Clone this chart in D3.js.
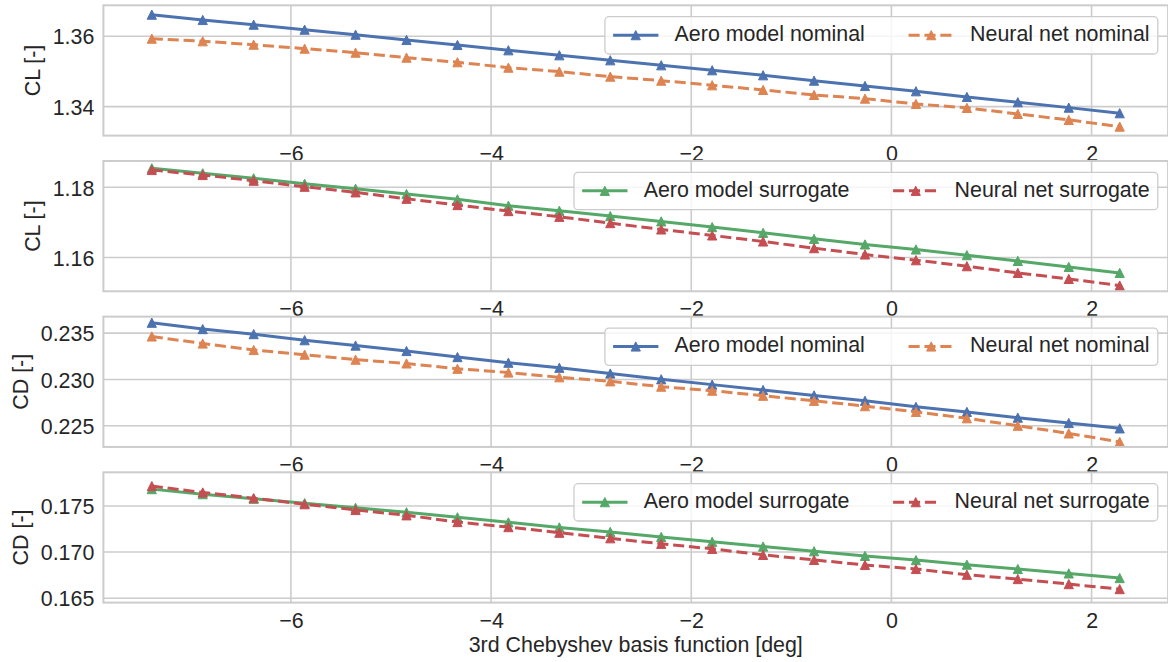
<!DOCTYPE html>
<html>
<head>
<meta charset="utf-8">
<script src="https://cdn.jsdelivr.net/npm/d3@7"></script>
<style>
  html, body { margin: 0; padding: 0; background: #ffffff; }
  svg { display: block; font-family: "Liberation Sans", Arial, sans-serif; }
</style>
</head>
<body>
<svg id="chart" width="1168" height="662"></svg>
<script>
// ---- data -------------------------------------------------------------
const xValues = [-7.390, -6.881, -6.372, -5.863, -5.354, -4.845, -4.336, -3.827, -3.318, -2.809,
                 -2.300, -1.791, -1.282, -0.773, -0.264, 0.245, 0.754, 1.263, 1.772, 2.281];

const clNominalAero = [1.36614, 1.36463, 1.36330, 1.36188, 1.36045, 1.35895, 1.35753, 1.35602, 1.35460, 1.35318,
                       1.35176, 1.35034, 1.34892, 1.34739, 1.34588, 1.34438, 1.34276, 1.34126, 1.33972, 1.33813];
const clNominalNet = [1.35932, 1.35858, 1.35761, 1.35648, 1.35534, 1.35392, 1.35262, 1.35108, 1.34995, 1.34853,
                      1.34739, 1.34608, 1.34475, 1.34333, 1.34228, 1.34077, 1.33964, 1.33793, 1.33623, 1.33433];
const clSurrogateAero = [1.18543, 1.18400, 1.18257, 1.18103, 1.17960, 1.17809, 1.17657, 1.17474, 1.17331, 1.17180,
                         1.17029, 1.16866, 1.16703, 1.16531, 1.16372, 1.16229, 1.16066, 1.15903, 1.15732, 1.15560];
const clSurrogateNet = [1.18494, 1.18351, 1.18189, 1.18017, 1.17857, 1.17674, 1.17494, 1.17323, 1.17160, 1.16980,
                        1.16800, 1.16629, 1.16457, 1.16266, 1.16086, 1.15923, 1.15752, 1.15560, 1.15389, 1.15200];
const cdNominalAero = [0.236123, 0.235436, 0.234891, 0.234237, 0.233659, 0.233070, 0.232415, 0.231805, 0.231260, 0.230638,
                       0.230016, 0.229438, 0.228860, 0.228272, 0.227694, 0.227039, 0.226494, 0.225872, 0.225294, 0.224717];
const cdNominalNet = [0.234640, 0.233877, 0.233179, 0.232677, 0.232132, 0.231729, 0.231151, 0.230747, 0.230234, 0.229798,
                      0.229220, 0.228784, 0.228239, 0.227694, 0.227116, 0.226494, 0.225807, 0.225000, 0.224171, 0.223255];
const cdSurrogateAero = [0.176823, 0.176277, 0.175786, 0.175295, 0.174803, 0.174312, 0.173766, 0.173221, 0.172675, 0.172183,
                         0.171638, 0.171114, 0.170600, 0.170087, 0.169585, 0.169127, 0.168635, 0.168166, 0.167686, 0.167183];
const cdSurrogateNet = [0.177151, 0.176463, 0.175841, 0.175186, 0.174563, 0.173985, 0.173253, 0.172707, 0.172096, 0.171496,
                        0.170895, 0.170349, 0.169694, 0.169149, 0.168603, 0.168166, 0.167544, 0.167074, 0.166528, 0.165983];

// axis limits and tick labels
const xTicks = [-6, -4, -2, 0, 2];
const clNominalLimits = [1.33177, 1.36880];
const clSurrogateLimits = [1.15037, 1.18751];
const cdNominalLimits = [0.22271, 0.23678];
const cdSurrogateLimits = [0.16452, 0.178646];
const clNominalTicks = [1.34, 1.36];
const clSurrogateTicks = [1.16, 1.18];
const cdNominalTicks = [0.225, 0.230, 0.235];
const cdSurrogateTicks = [0.165, 0.170, 0.175];

const xLabel = "3rd Chebyshev basis function [deg]";

// ---- style ------------------------------------------------------------
const BLUE = "#4C72B0", ORANGE = "#DD8452", GREEN = "#55A868", RED = "#C44E52";
const TEXT = "#262626";
const GRID = "#cccccc";
const FS = 21.4;
const LW = 3;
const DASH = "11.1,4.8";

const panels = [
  { ylabel: "CL [-]", limits: clNominalLimits, ticks: clNominalTicks, fmt: ".2f",
    series: [
      { name: "Aero model nominal", values: clNominalAero, color: BLUE, dashed: false },
      { name: "Neural net nominal", values: clNominalNet, color: ORANGE, dashed: true } ] },
  { ylabel: "CL [-]", limits: clSurrogateLimits, ticks: clSurrogateTicks, fmt: ".2f",
    series: [
      { name: "Aero model surrogate", values: clSurrogateAero, color: GREEN, dashed: false },
      { name: "Neural net surrogate", values: clSurrogateNet, color: RED, dashed: true } ] },
  { ylabel: "CD [-]", limits: cdNominalLimits, ticks: cdNominalTicks, fmt: ".3f",
    series: [
      { name: "Aero model nominal", values: cdNominalAero, color: BLUE, dashed: false },
      { name: "Neural net nominal", values: cdNominalNet, color: ORANGE, dashed: true } ] },
  { ylabel: "CD [-]", limits: cdSurrogateLimits, ticks: cdSurrogateTicks, fmt: ".3f",
    series: [
      { name: "Aero model surrogate", values: cdSurrogateAero, color: GREEN, dashed: false },
      { name: "Neural net surrogate", values: cdSurrogateNet, color: RED, dashed: true } ] }
];

// ---- layout -----------------------------------------------------------
const left = 103.4, right = 1168.1;
const firstTop = 5.3, panelH = 130.3, panelStep = 155.67;

const svg = d3.select("#chart");

const xExt = d3.extent(xValues);
const xPad = (xExt[1] - xExt[0]) * 0.05;
const x = d3.scaleLinear().domain([xExt[0] - xPad, xExt[1] + xPad]).range([left, right]);

// upward triangle marker
const TR = 4.6;
const triangle = `M0,${-TR}L${TR},${TR}L${-TR},${TR}Z`;

function drawLegend(g, series, axRight, axTop) {
  const lg = g.append("g");
  const boxTop = axTop + 11.4, boxH = 37.3;
  const pad = 8.2, handleLen = 45.3, handlePad = 16.2, colSpace = 43.7;
  const rect = lg.append("rect");
  const texts = series.map(s => lg.append("text")
    .attr("font-size", FS).attr("fill", TEXT).text(s.name));
  const widths = texts.map(t => t.node().getComputedTextLength());
  const total = pad * 2 + d3.sum(widths) + series.length * (handleLen + handlePad) + colSpace * (series.length - 1);
  const boxRight = axRight - 10.3;
  const boxLeft = boxRight - total;
  rect.attr("x", boxLeft).attr("y", boxTop).attr("width", total).attr("height", boxH)
    .attr("rx", 4).attr("ry", 4)
    .attr("fill", "#ffffff").attr("fill-opacity", 0.8)
    .attr("stroke", GRID).attr("stroke-width", 1.3);
  let cx = boxLeft + pad;
  const cy = boxTop + boxH / 2 - 0.2;
  series.forEach((s, k) => {
    lg.append("line").attr("x1", cx).attr("x2", cx + handleLen).attr("y1", cy).attr("y2", cy)
      .attr("stroke", s.color).attr("stroke-width", LW)
      .attr("stroke-dasharray", s.dashed ? DASH : null);
    lg.append("path").attr("d", triangle)
      .attr("transform", `translate(${cx + handleLen / 2},${cy})`)
      .attr("fill", s.color).attr("stroke", s.color).attr("stroke-width", 1);
    texts[k].attr("x", cx + handleLen + handlePad).attr("y", boxTop + 24.3);
    cx += handleLen + handlePad + widths[k] + colSpace;
  });
}

panels.forEach((p, i) => {
  const top = firstTop + i * panelStep;
  const bottom = top + panelH;
  const y = d3.scaleLinear().domain(p.limits).range([bottom, top]);
  const g = svg.append("g");

  // grid
  g.append("g").selectAll("line").data(xTicks).join("line")
    .attr("x1", d => x(d)).attr("x2", d => x(d)).attr("y1", top).attr("y2", bottom)
    .attr("stroke", GRID).attr("stroke-width", 1.6);
  g.append("g").selectAll("line").data(p.ticks).join("line")
    .attr("x1", left).attr("x2", right).attr("y1", d => y(d)).attr("y2", d => y(d))
    .attr("stroke", GRID).attr("stroke-width", 1.6);

  // series
  const line = d3.line().x((d, j) => x(xValues[j])).y(d => y(d));
  p.series.forEach(s => {
    g.append("path").datum(s.values).attr("d", line)
      .attr("fill", "none").attr("stroke", s.color).attr("stroke-width", LW)
      .attr("stroke-linejoin", "round")
      .attr("stroke-dasharray", s.dashed ? DASH : null);
    g.append("g").selectAll("path").data(s.values).join("path")
      .attr("d", triangle)
      .attr("transform", (d, j) => `translate(${x(xValues[j])},${y(d)})`)
      .attr("fill", s.color).attr("stroke", s.color).attr("stroke-width", 1);
  });

  // frame
  g.append("rect").attr("x", left).attr("y", top).attr("width", right - left).attr("height", panelH)
    .attr("fill", "none").attr("stroke", GRID).attr("stroke-width", 2);

  // x axis labels
  const xa = g.append("g").attr("transform", `translate(0,${bottom})`)
    .call(d3.axisBottom(x).tickValues(xTicks).tickSize(0).tickPadding(9.8).tickFormat(d3.format("d")));
  xa.select(".domain").remove();
  xa.selectAll("text").attr("font-size", FS).attr("fill", TEXT).attr("font-family", null);

  // y axis labels
  const ya = g.append("g").attr("transform", `translate(${left},0)`)
    .call(d3.axisLeft(y).tickValues(p.ticks).tickSize(0).tickPadding(9.1).tickFormat(d3.format(p.fmt)));
  ya.select(".domain").remove();
  ya.selectAll("text").attr("font-size", FS).attr("fill", TEXT).attr("font-family", null).attr("dy", "0.36em");

  const bb = ya.node().getBBox();
  const labelX = left + bb.x - 12.3;
  g.append("text")
    .attr("transform", `translate(${labelX},${(top + bottom) / 2}) rotate(-90)`)
    .attr("text-anchor", "middle").attr("font-size", FS).attr("fill", TEXT)
    .text(p.ylabel);

  drawLegend(g, p.series, right, top);
});

svg.append("text")
  .attr("x", (left + right) / 2).attr("y", 651.5)
  .attr("text-anchor", "middle").attr("font-size", FS).attr("fill", TEXT)
  .text(xLabel);
</script>
</body>
</html>
